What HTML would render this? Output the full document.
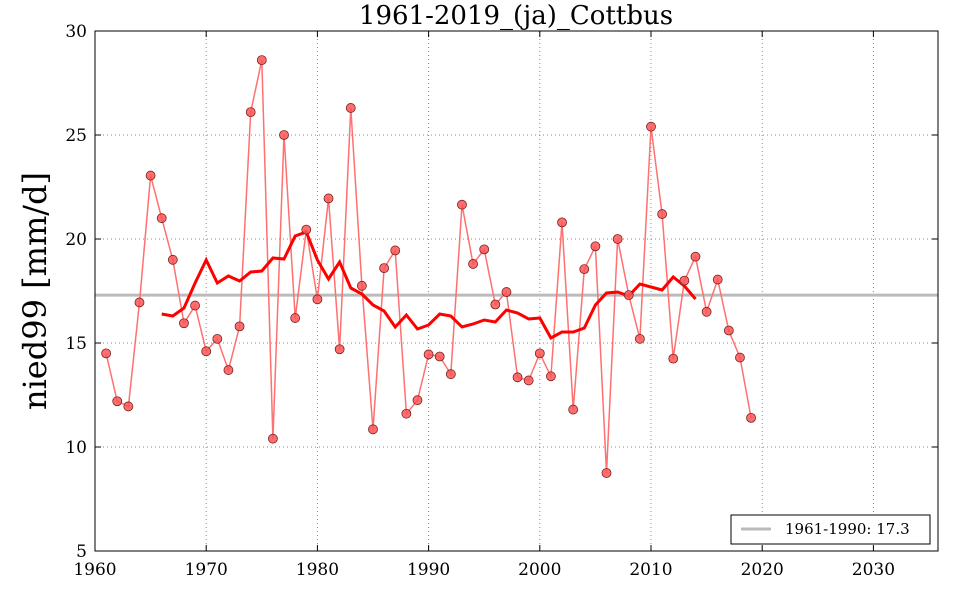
<!DOCTYPE html>
<html><head><meta charset="utf-8"><style>
body{margin:0;background:#fff;}
svg text{font-family:"DejaVu Serif","Liberation Serif",serif;}
</style></head><body>
<svg id="s" width="960" height="600" xmlns="http://www.w3.org/2000/svg"></svg>
<script>
const s=document.getElementById('s');
const X=y=>95+(y-1960)*11.12, Y=v=>551-(v-5)*20.8;
let h='';
h+='<rect x="0" y="0" width="960" height="600" fill="#fff"/>';
for(let yr=1970;yr<=2030;yr+=10){const x=X(yr);h+=`<line x1="${x}" y1="31" x2="${x}" y2="551" stroke="#888" stroke-dasharray="1,3" stroke-width="1"/>`;}
for(let v=10;v<=25;v+=5){const y=Y(v);h+=`<line x1="95" y1="${y}" x2="938" y2="${y}" stroke="#888" stroke-dasharray="1,3" stroke-width="1"/>`;}
for(let yr=1960;yr<=2030;yr+=10){const x=X(yr);h+=`<line x1="${x}" y1="551" x2="${x}" y2="545" stroke="#000"/><line x1="${x}" y1="31" x2="${x}" y2="37" stroke="#000"/><text x="${x}" y="575" font-size="17" text-anchor="middle">${yr}</text>`;}
for(let v=5;v<=30;v+=5){const y=Y(v);h+=`<line x1="95" y1="${y}" x2="101" y2="${y}" stroke="#000"/><line x1="938" y1="${y}" x2="932" y2="${y}" stroke="#000"/><text x="87" y="${y+6}" font-size="17" text-anchor="end">${v}</text>`;}
h+=`<line x1="95" y1="${Y(17.3)}" x2="938" y2="${Y(17.3)}" stroke="#bbb" stroke-width="3"/>`;
const d=[14.5,12.2,11.95,16.95,23.05,21.0,19.0,15.95,16.8,14.6,15.2,13.7,15.8,26.1,28.6,10.4,25.0,16.2,20.45,17.1,21.95,14.7,26.3,17.75,10.85,18.6,19.45,11.6,12.25,14.45,14.35,13.5,21.65,18.8,19.5,16.85,17.45,13.35,13.2,14.5,13.4,20.8,11.8,18.55,19.65,8.75,20.0,17.3,15.2,25.4,21.2,14.25,18.0,19.15,16.5,18.05,15.6,14.3,11.4];
let p=d.map((v,i)=>X(1961+i).toFixed(1)+','+Y(v).toFixed(1)).join(' ');
h+=`<polyline points="${p}" fill="none" stroke="#ff7070" stroke-width="1.5"/>`;
const m=[314,316,308,283,260,283,276,281,272,271,258,259,236,232,260,279,262,288,294,305,311,327,315,329,325,314,316,327,324,320,322,310,313,319,318,338,332,332,328,305,293,292,296,284,287,290,277,286,299];
h+=`<polyline points="${m.map((y,i)=>X(1966+i).toFixed(1)+','+y).join(' ')}" fill="none" stroke="#f00" stroke-width="3"/>`;
d.forEach((v,i)=>{h+=`<circle cx="${X(1961+i)}" cy="${Y(v)}" r="4.5" fill="#f55" fill-opacity="0.85" stroke="#722" stroke-width="0.8"/>`;});
h+='<rect x="95" y="31" width="843" height="520" fill="none" stroke="#000" stroke-width="1"/>';
h+='<rect x="731" y="515" width="199" height="29" fill="#fff" stroke="#000"/><line x1="741" y1="529" x2="771" y2="529" stroke="#bbb" stroke-width="3"/><text x="785" y="534" font-size="15">1961-1990: 17.3</text>';
h+='<text x="516" y="24" font-size="26" text-anchor="middle">1961-2019_(ja)_Cottbus</text>';
h+='<text transform="translate(46,291) rotate(-90)" font-size="32" text-anchor="middle">nied99 [mm/d]</text>';
s.innerHTML=h;
</script>
</body></html>
